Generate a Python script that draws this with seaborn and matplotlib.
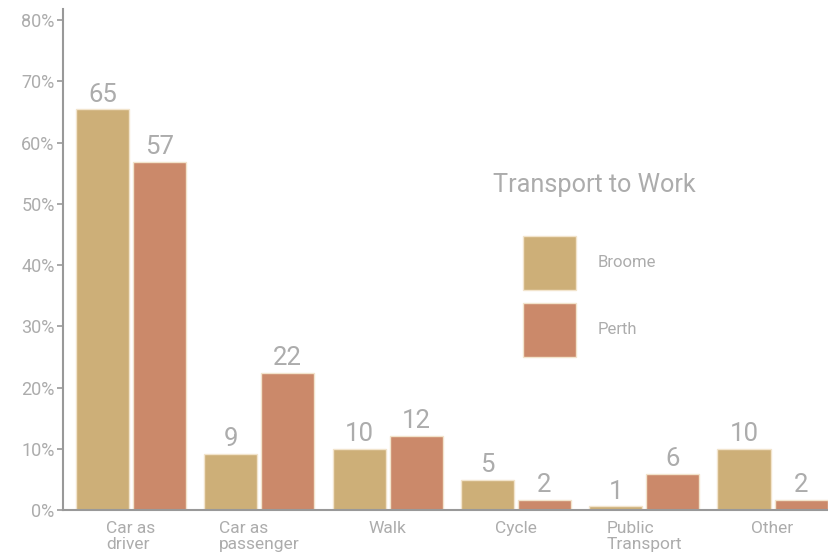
import matplotlib
matplotlib.use("Agg")
import matplotlib.pyplot as plt
import matplotlib.patches as mpatches
import seaborn as sns
import pandas as pd

categories = ["Car as\ndriver", "Car as\npassenger", "Walk", "Cycle", "Public\nTransport", "Other"]
broome = [65.4, 9.1, 10.0, 4.9, 0.6, 10.0]
perth = [56.8, 22.4, 12.1, 1.6, 5.9, 1.6]
series = ["Broome", "Perth"]
yticks = [0, 10, 20, 30, 40, 50, 60, 70, 80]
title = "Transport to Work"

colors = {"Broome": "#cdaf78", "Perth": "#cb896a"}
text_col = "#acacac"
spine_col = "#999999"

df = pd.DataFrame({
    "category": categories * 2,
    "value": broome + perth,
    "city": ["Broome"] * len(categories) + ["Perth"] * len(categories),
})

sns.set_theme(style="white")
plt.rcParams["font.family"] = ["Roboto", "DejaVu Sans"]

W, H = 829, 556
fig = plt.figure(figsize=(W / 100, H / 100), dpi=100)
ax = fig.add_axes([63 / W, (H - 510) / H, (W - 63) / W, (510 - 9) / H])

sns.barplot(data=df, x="category", y="value", hue="city", hue_order=series,
            order=categories, palette=colors, saturation=1, width=0.89, gap=0.07,
            edgecolor="#f2e4cc", linewidth=1, legend=False, ax=ax)

for cont in ax.containers:
    ax.bar_label(cont, fmt="%.0f", padding=2, fontsize=18.5, color=text_col)

ax.set_xlim(-0.53, 5.44)
ax.set_ylim(0, 81.8)
ax.set_yticks(yticks)
ax.set_yticklabels([f"{t}%" for t in yticks])
ax.set_xlabel("")
ax.set_ylabel("")

for s in ["top", "right"]:
    ax.spines[s].set_visible(False)
for s in ["left", "bottom"]:
    ax.spines[s].set_color(spine_col)
    ax.spines[s].set_linewidth(1.5)

ax.tick_params(axis="y", which="major", left=True, length=4, width=1.2,
               color=spine_col, labelsize=13, labelcolor=text_col, pad=2)
ax.tick_params(axis="x", bottom=False, labelsize=12.5, labelcolor=text_col, pad=2)
for lab in ax.get_xticklabels():
    lab.set_multialignment("left")
    lab.set_linespacing(1.05)

fig.text(594 / W, 1 - 185 / H, title, ha="center", va="center", fontsize=18.2,
         color=text_col)

handles = [mpatches.Patch(facecolor=colors[s], edgecolor="#f2e4cc", label=s) for s in series]
leg = ax.legend(handles=handles, loc="upper left",
                bbox_to_anchor=(523 / W, 1 - 236 / H), bbox_transform=fig.transFigure,
                frameon=False, fontsize=12, handlelength=3.2, handleheight=4.6,
                labelspacing=0.8, handletextpad=1.3, borderpad=0, borderaxespad=0)
for t in leg.get_texts():
    t.set_color(text_col)

fig.savefig("out.png", dpi=100)
